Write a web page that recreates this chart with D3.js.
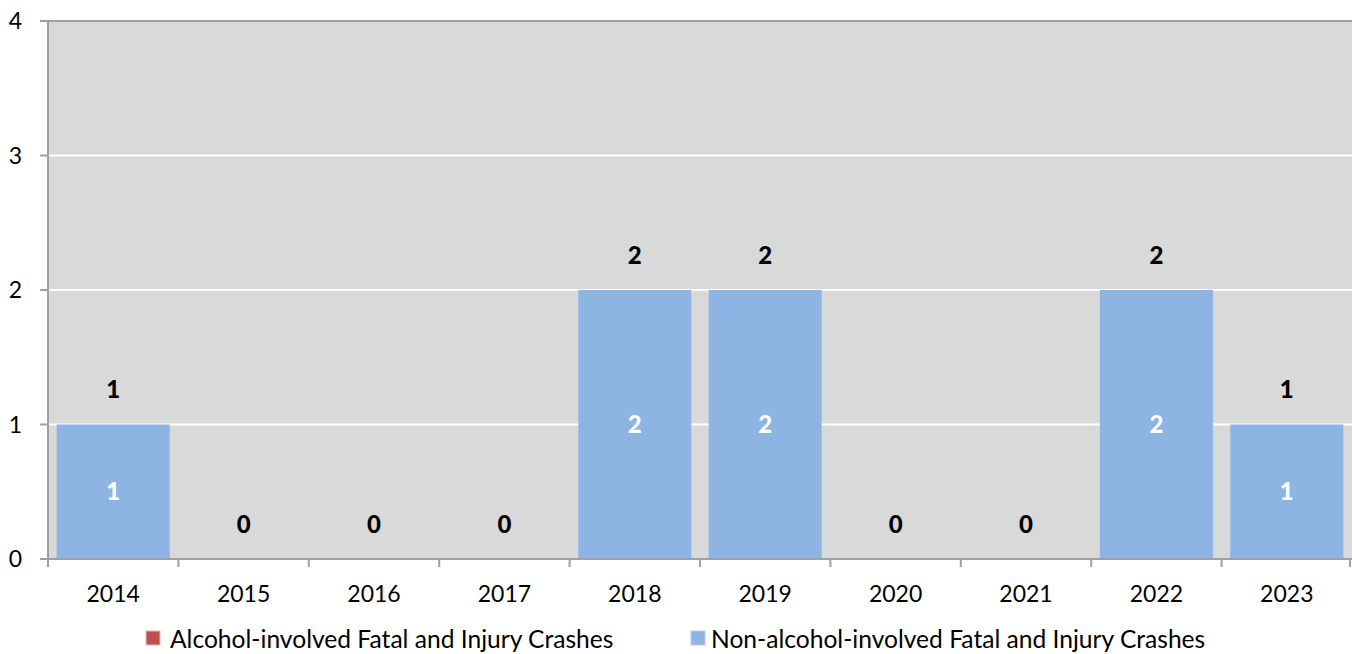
<!DOCTYPE html>
<html><head><meta charset="utf-8">
<script src="https://cdn.jsdelivr.net/npm/d3@7/dist/d3.min.js"></script>
<style>body{margin:0;background:#fff}svg{display:block}text{font-family:Lato,"Open Sans",sans-serif}</style>
</head><body><svg id="c" width="1352" height="654"></svg>
<script>
const years = ["2014","2015","2016","2017","2018","2019","2020","2021","2022","2023"];
const alcohol = [0,0,0,0,0,0,0,0,0,0];
const nonAlcohol = [1,0,0,0,2,2,0,0,2,1];
const yTicks = [0,1,2,3,4];
const seriesNames = ["Alcohol-involved Fatal and Injury Crashes","Non-alcohol-involved Fatal and Injury Crashes"];
const colors = ["#C0504D","#8EB4E3"];
const legendBorders = ["#E6B9B8","#B9CDE5"];

const svg = d3.select("#c");
const L=48, R=1352, T=21, B=559;
const x = d3.scaleBand().domain(years).range([L,R]).paddingInner(0.133).paddingOuter(0.0665);
const xb = d3.scaleBand().domain(years).range([L,R]);
const y = d3.scaleLinear().domain([0,4]).range([B,T]);

svg.append("rect").attr("x",L).attr("y",T).attr("width",R-L).attr("height",B-T).attr("fill","#D9D9D9");
svg.append("g").selectAll("line").data(yTicks.filter(d=>d>0)).join("line")
  .attr("x1",L).attr("x2",R).attr("y1",d=>y(d)).attr("y2",d=>y(d)).attr("stroke","#fff").attr("stroke-width",2);

const data = years.map((yr,i)=>({yr,a:alcohol[i],n:nonAlcohol[i],t:alcohol[i]+nonAlcohol[i]}));
svg.append("g").selectAll("rect").data(data.filter(d=>d.a>0)).join("rect")
  .attr("x",d=>x(d.yr)).attr("width",x.bandwidth()).attr("y",d=>y(d.a)).attr("height",d=>y(0)-y(d.a)).attr("fill",colors[0]);
svg.append("g").selectAll("rect").data(data.filter(d=>d.n>0)).join("rect")
  .attr("x",d=>x(d.yr)).attr("width",x.bandwidth()).attr("y",d=>y(d.a+d.n)).attr("height",d=>y(d.a)-y(d.a+d.n)).attr("fill",colors[1]);

svg.append("g").selectAll("text").data(data.filter(d=>d.n>0)).join("text")
  .attr("x",d=>x(d.yr)+x.bandwidth()/2).attr("y",d=>(y(d.a)+y(d.a+d.n))/2).attr("dy","0.36em")
  .attr("text-anchor","middle").attr("fill","#fff").attr("font-weight","900").attr("font-size",24).text(d=>d.n);
svg.append("g").selectAll("text").data(data).join("text")
  .attr("x",d=>x(d.yr)+x.bandwidth()/2).attr("y",d=>y(d.t)-35).attr("dy","0.36em")
  .attr("text-anchor","middle").attr("fill","#000").attr("font-weight","900").attr("font-size",24).text(d=>d.t);

const axStroke="#A0A0A0";
svg.append("line").attr("x1",L).attr("x2",L).attr("y1",T).attr("y2",B).attr("stroke",axStroke).attr("stroke-width",2);
svg.append("line").attr("x1",L).attr("x2",R).attr("y1",B).attr("y2",B).attr("stroke",axStroke).attr("stroke-width",2);
svg.append("line").attr("x1",40).attr("x2",R).attr("y1",T).attr("y2",T).attr("stroke",axStroke).attr("stroke-width",2);
svg.append("g").selectAll("line").data(yTicks).join("line")
  .attr("x1",40).attr("x2",L).attr("y1",d=>y(d)).attr("y2",d=>y(d)).attr("stroke",axStroke).attr("stroke-width",2);
svg.append("g").selectAll("text").data(yTicks).join("text")
  .attr("x",22).attr("y",d=>y(d)).attr("dy","0.36em").attr("text-anchor","end").attr("font-size",23).attr("fill","#000").text(d=>d);
const xt = years.map(d=>xb(d)).concat([R-2]);
svg.append("g").selectAll("line").data(xt).join("line")
  .attr("x1",d=>d).attr("x2",d=>d).attr("y1",B).attr("y2",B+8).attr("stroke",axStroke).attr("stroke-width",2);
svg.append("g").selectAll("text").data(years).join("text")
  .attr("x",d=>xb(d)+xb.bandwidth()/2).attr("y",594).attr("dy","0.36em").attr("text-anchor","middle").attr("font-size",23).attr("fill","#000").text(d=>d);

const leg=[{x:146,tx:170},{x:691,tx:711}];
leg.forEach((l,i)=>{
  svg.append("rect").attr("x",l.x).attr("y",631).attr("width",14).attr("height",14).attr("fill",colors[i])
    .attr("stroke",legendBorders[i]).attr("stroke-width",1);
  svg.append("text").attr("x",l.tx).attr("y",639).attr("dy","0.36em").attr("font-size",24.6).attr("fill","#000").text(seriesNames[i]);
});
</script></body></html>
